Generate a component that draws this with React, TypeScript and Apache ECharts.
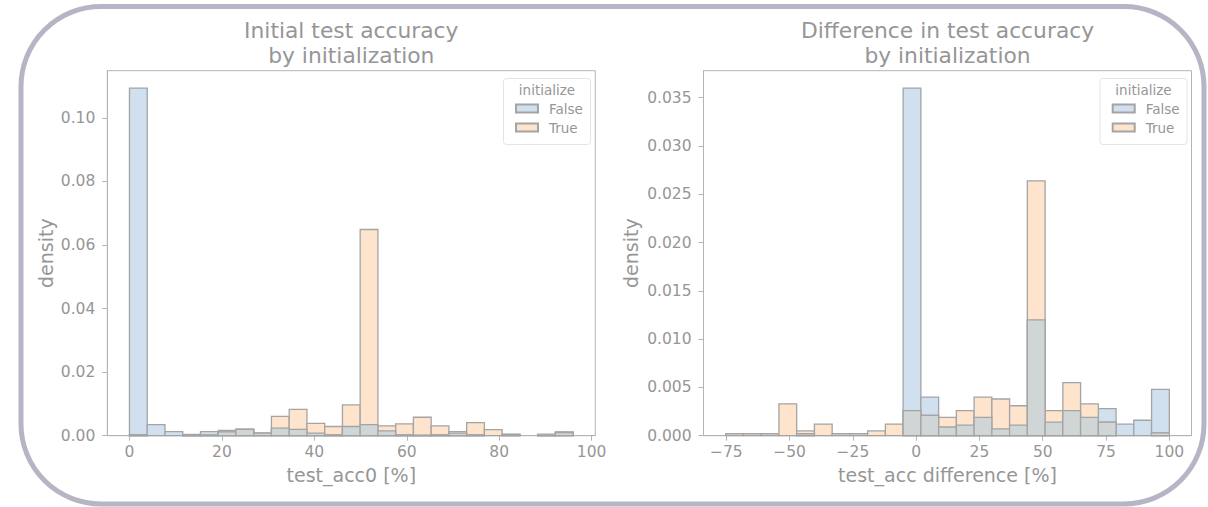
import React, { useEffect, useRef } from "react";
import * as echarts from "echarts";

// ---------- data ----------
const SERIES_NAMES = ["False", "True"];

// left: test_acc0 [%] histogram (density), 25 bins
const LEFT_BIN_START = 0;
const LEFT_BIN_WIDTH = 3.84;
const LEFT_FALSE = [
  0.1094, 0.0035, 0.0013, 0.0004, 0.0013, 0.0017, 0.002, 0.0008, 0.0024, 0.002,
  0.0008, 0.0003, 0.0029, 0.0035, 0.0015, 0.0003, 0.0002, 0.0003, 0.0008, 0.0003,
  0.0, 0.0004, 0.0, 0.0005, 0.0010,
];
const LEFT_TRUE = [
  0.0003, 0.0, 0.0, 0.0003, 0.0002, 0.0012, 0.0021, 0.0008, 0.0061, 0.0083,
  0.0039, 0.0029, 0.0097, 0.0649, 0.0031, 0.0037, 0.0058, 0.0031, 0.0013, 0.0041,
  0.0019, 0.0004, 0.0, 0.0001, 0.0012,
];

// right: test_acc difference [%] histogram (density), 25 bins
const RIGHT_BIN_START = -75.25;
const RIGHT_BIN_WIDTH = 7.01;
const RIGHT_FALSE = [
  0.0, 0.0, 0.0, 0.0, 0.0002, 0.0, 0.0, 0.0, 0.0, 0.0,
  0.036, 0.004, 0.0009, 0.0011, 0.0019, 0.0007, 0.0011, 0.012, 0.0014, 0.0026,
  0.0019, 0.0028, 0.0012, 0.0016, 0.0048,
];
const RIGHT_TRUE = [
  0.0002, 0.0002, 0.0002, 0.0033, 0.0005, 0.0012, 0.0002, 0.0002, 0.0005, 0.0012,
  0.0026, 0.0021, 0.0019, 0.0026, 0.004, 0.0038, 0.0031, 0.0264, 0.0026, 0.0055,
  0.0033, 0.0014, 0.0, 0.0, 0.0003,
];

const LEFT_X_TICKS = [0, 20, 40, 60, 80, 100];
const LEFT_Y_TICKS = [0, 0.02, 0.04, 0.06, 0.08, 0.1];
const RIGHT_X_TICKS = [-75, -50, -25, 0, 25, 50, 75, 100];
const RIGHT_Y_TICKS = [0, 0.005, 0.01, 0.015, 0.02, 0.025, 0.03, 0.035];

const LEFT_TITLE = ["Initial test accuracy", "by initialization"];
const RIGHT_TITLE = ["Difference in test accuracy", "by initialization"];
const LEFT_XLABEL = "test_acc0 [%]";
const RIGHT_XLABEL = "test_acc difference [%]";
const YLABEL = "density";
const LEGEND_TITLE = "initialize";

// ---------- style ----------
const FONT = "DejaVu Sans";
const TEXT = "#969696";
const SPINE = "#b4b4b4";
const EDGE = "#a4a4a4";
const BLUE = "#d0e0ee";
const ORANGE = "#fee3cd";
const OVERLAP = "#d0d5d5";
const FRAME = "#b5b5c5";

function toRows(start: number, width: number, vals: number[]) {
  return vals.map((v, i) => [start + i * width, start + (i + 1) * width, v]);
}

function overlapOf(a: number[], b: number[]) {
  return a.map((v, i) => Math.min(v, b[i]));
}

function histSeries(name: string, color: string, rows: number[][], idx: number) {
  return {
    type: "custom",
    name,
    xAxisIndex: idx,
    yAxisIndex: idx,
    data: rows,
    encode: { x: [0, 1], y: 2 },
    itemStyle: { color, borderColor: EDGE, borderWidth: 1 },
    renderItem: (params: any, api: any) => {
      const h = api.value(2);
      if (!h) return null;
      const p0 = api.coord([api.value(0), h]);
      const p1 = api.coord([api.value(1), 0]);
      return {
        type: "rect",
        shape: { x: p0[0], y: p0[1], width: p1[0] - p0[0], height: p1[1] - p0[1] },
        style: { fill: color, stroke: EDGE, lineWidth: 1.3 },
      };
    },
  };
}

function minus(v: number) {
  return String(v).replace("-", "\u2212");
}

export default function App() {
  const ref = useRef<HTMLDivElement>(null);

  useEffect(() => {
    if (!ref.current) return;
    const chart = echarts.init(ref.current, undefined, { renderer: "svg" });

    const grids = [
      { left: 107.3, top: 70.7, width: 488, height: 365 },
      { left: 703.5, top: 70.7, width: 488, height: 365 },
    ];

    const xAxisBase = (idx: number, min: number, max: number, ticks: number[], name: string, fmt: (v: number) => string) => ({
      type: "value",
      gridIndex: idx,
      min,
      max,
      axisLine: { show: true, onZero: false, lineStyle: { color: SPINE, width: 1 } },
      axisTick: { show: true, length: 5, customValues: ticks, lineStyle: { color: SPINE } },
      axisLabel: {
        customValues: ticks,
        formatter: (v: number) => fmt(v),
        color: TEXT,
        fontFamily: FONT,
        fontSize: 15.5,
        margin: 8,
      },
      splitLine: { show: false },
      name,
      nameLocation: "middle",
      nameGap: 30,
      nameTextStyle: { color: TEXT, fontFamily: FONT, fontSize: 19 },
    });

    const yAxisBase = (idx: number, max: number, ticks: number[], digits: number, gap: number) => ({
      type: "value",
      gridIndex: idx,
      min: 0,
      max,
      axisLine: { show: true, onZero: false, lineStyle: { color: SPINE, width: 1 } },
      axisTick: { show: true, length: 5, customValues: ticks, lineStyle: { color: SPINE } },
      axisLabel: {
        customValues: ticks,
        formatter: (v: number) => v.toFixed(digits),
        color: TEXT,
        fontFamily: FONT,
        fontSize: 15.5,
        margin: 12,
      },
      splitLine: { show: false },
      name: YLABEL,
      nameLocation: "middle",
      nameGap: gap,
      nameTextStyle: { color: TEXT, fontFamily: FONT, fontSize: 19 },
    });

    const legendFor = (left: number) => ({
      data: SERIES_NAMES,
      orient: "vertical",
      left,
      top: 96.5,
      itemWidth: 22,
      itemHeight: 8,
      itemGap: 5,
      icon: "rect",
      selectedMode: false,
      textStyle: { color: TEXT, fontFamily: FONT, fontSize: 13.5, lineHeight: 13, padding: [0, 0, 0, 6] },
    });

    const legendBox = (x: number) => [
      {
        type: "rect",
        z: 1,
        shape: { x, y: 78.5, width: 87, height: 66, r: 3 },
        style: { fill: "rgba(255,255,255,0.8)", stroke: "#e4e4e4", lineWidth: 1 },
      },
      {
        type: "text",
        z: 5,
        x: x + 43.5,
        y: 89.5,
        style: { text: LEGEND_TITLE, fill: TEXT, font: `13.5px "${FONT}"`, align: "center", verticalAlign: "middle" },
      },
    ];

    const titleTexts = (cx: number, lines: string[]) =>
      lines.map((t, i) => ({
        type: "text",
        x: cx,
        y: 30.5 + i * 24.6,
        style: { text: t, fill: TEXT, font: `21.8px "${FONT}"`, align: "center", verticalAlign: "middle" },
      }));

    const lFalse = toRows(LEFT_BIN_START, LEFT_BIN_WIDTH, LEFT_FALSE);
    const lTrue = toRows(LEFT_BIN_START, LEFT_BIN_WIDTH, LEFT_TRUE);
    const lOver = toRows(LEFT_BIN_START, LEFT_BIN_WIDTH, overlapOf(LEFT_FALSE, LEFT_TRUE));
    const rFalse = toRows(RIGHT_BIN_START, RIGHT_BIN_WIDTH, RIGHT_FALSE);
    const rTrue = toRows(RIGHT_BIN_START, RIGHT_BIN_WIDTH, RIGHT_TRUE);
    const rOver = toRows(RIGHT_BIN_START, RIGHT_BIN_WIDTH, overlapOf(RIGHT_FALSE, RIGHT_TRUE));

    const lMax = Math.max(...LEFT_FALSE, ...LEFT_TRUE) * 1.05;
    const rMax = Math.max(...RIGHT_FALSE, ...RIGHT_TRUE) * 1.05;
    const lEnd = LEFT_BIN_START + LEFT_BIN_WIDTH * LEFT_FALSE.length;
    const rEnd = RIGHT_BIN_START + RIGHT_BIN_WIDTH * RIGHT_FALSE.length;
    const lPad = (lEnd - LEFT_BIN_START) * 0.05;
    const rPad = (rEnd - RIGHT_BIN_START) * 0.05;

    chart.setOption({
      animation: false,
      backgroundColor: "#ffffff",
      grid: grids.map((g) => ({ ...g, show: true, borderColor: SPINE, borderWidth: 1, backgroundColor: "transparent" })),
      xAxis: [
        xAxisBase(0, LEFT_BIN_START - lPad, lEnd + lPad, LEFT_X_TICKS, LEFT_XLABEL, (v) => String(v)),
        xAxisBase(1, RIGHT_BIN_START - rPad, rEnd + rPad, RIGHT_X_TICKS, RIGHT_XLABEL, minus),
      ],
      yAxis: [yAxisBase(0, lMax, LEFT_Y_TICKS, 2, 52), yAxisBase(1, rMax, RIGHT_Y_TICKS, 3, 63)],
      legend: [legendFor(510), legendFor(1106.7)],
      series: [
        histSeries("False", BLUE, lFalse, 0),
        histSeries("True", ORANGE, lTrue, 0),
        histSeries("overlap", OVERLAP, lOver, 0),
        histSeries("False", BLUE, rFalse, 1),
        histSeries("True", ORANGE, rTrue, 1),
        histSeries("overlap", OVERLAP, rOver, 1),
      ],
      graphic: [
        ...titleTexts(351.3, LEFT_TITLE),
        ...titleTexts(947.5, RIGHT_TITLE),
        ...legendBox(503.5),
        ...legendBox(1100),
        {
          type: "rect",
          z: 10,
          shape: { x: 21, y: 6.5, width: 1183, height: 497.5, r: 80 },
          style: { fill: "none", stroke: FRAME, lineWidth: 5 },
        },
      ],
    });

    return () => chart.dispose();
  }, []);

  return (
    <div
      ref={ref}
      style={{ position: "fixed", left: 0, top: 0, width: 1208, height: 507, background: "#fff" }}
    />
  );
}
